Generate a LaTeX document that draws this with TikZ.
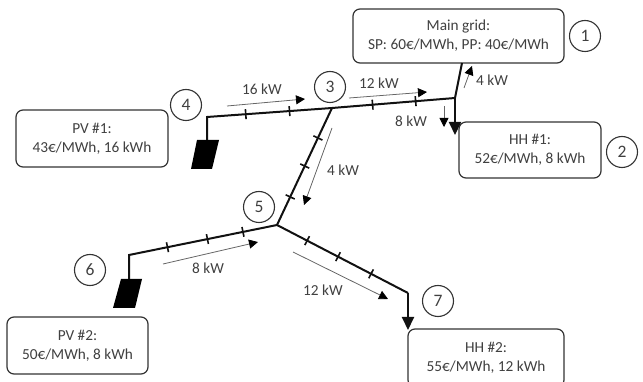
\documentclass[tikz,border=0pt]{standalone}
\usepackage{fontspec}
\setmainfont{Carlito}
\usepackage{tikz}
\usetikzlibrary{arrows.meta,positioning}
\definecolor{ink}{HTML}{404040}
\definecolor{wire}{HTML}{111111}
\definecolor{frame}{HTML}{333333}
\definecolor{flowline}{HTML}{666666}

\begin{document}
\begin{tikzpicture}[x=1pt,y=-1pt,
  infobox/.style={draw=frame,line width=1.2pt,rounded corners=7pt,fill=white,align=center,
    text=ink,font=\fontsize{15.3}{19}\selectfont,inner sep=0pt,
    execute at begin node={\rule{0pt}{15pt}}},
  tag/.style={circle,draw=frame,line width=1.1pt,minimum size=31pt,inner sep=0pt,
    text=ink,font=\fontsize{17.5}{18}\selectfont},
  wirebus/.style={draw=wire,line width=2pt,line join=miter},
  feed/.style={wirebus,-{Triangle[length=13pt,width=12pt]}},
  tickmark/.style={sloped,fill=wire,minimum width=1.6pt,minimum height=10pt,inner sep=0pt},
  flow/.style={draw=flowline,line width=.8pt,-{Triangle[length=9pt,width=9pt,color=black]}},
  flowlabel/.style={text=ink,font=\fontsize{15.3}{16}\selectfont,inner sep=0pt},
  panel/.style={fill=black}]
\useasboundingbox (0,0) rectangle (643,382);
% boxes
\node[infobox,minimum width=211pt,minimum height=54pt] (grid) at (458.5,36) {Main grid:\\SP: 60€/MWh, PP: 40€/MWh};
\node[infobox,minimum width=142pt,minimum height=56pt] (hh1) at (530,150) {HH \#1:\\52€/MWh, 8 kWh};
\node[infobox,minimum width=152pt,minimum height=57pt] (pv1) at (92,138.5) {PV \#1:\\43€/MWh, 16 kWh};
\node[infobox,minimum width=141pt,minimum height=57pt] (pv2) at (77.5,345.5) {PV \#2:\\50€/MWh, 8 kWh};
\node[infobox,minimum width=156pt,minimum height=58pt] (hh2) at (486,358) {HH \#2:\\55€/MWh, 12 kWh};
% numbers
\node[tag] (n1) at (585,36) {1};
\node[tag] (n2) at (622,152) {2};
\node[tag] (n3) at (330,87) {3};
\node[tag] (n4) at (186,105) {4};
\node[tag] (n5) at (259,207) {5};
\node[tag] (n6) at (90,270) {6};
\node[tag] (n7) at (438,301) {7};
% panels
\fill[panel] (197,140) -- (219,140) -- (212,169) -- (191,169) -- cycle;
\fill[panel] (121,279) -- (142,279) -- (135,308) -- (113,308) -- cycle;
% network
\coordinate (bus3) at (332,108);
\coordinate (bus5) at (277,225);
\coordinate (tee) at (455,98);
\coordinate (tap) at (462,63);
\coordinate (drop) at (455,135);
\coordinate (bend4) at (207,117);
\coordinate (foot4) at (207,140);
\coordinate (bend6) at (129,255);
\coordinate (foot6) at (129,279);
\coordinate (bend7) at (408,293);
\coordinate (drop7) at (408,330);
\draw[wirebus] (foot4) -- (bend4) -- node[tickmark,pos=.31]{} node[tickmark,pos=.66]{} (bus3);
\draw[wirebus] (bus3) -- node[tickmark,pos=.33]{} node[tickmark,pos=.68]{} (tee);
\draw[wirebus] (bus3) -- node[tickmark,pos=.256]{} node[tickmark,pos=.496]{} node[tickmark,pos=.76]{} (bus5);
\draw[wirebus] (foot6) -- (bend6) -- node[tickmark,pos=.26]{} node[tickmark,pos=.53]{} node[tickmark,pos=.77]{} (bus5);
\draw[wirebus] (bus5) -- node[tickmark,pos=.23]{} node[tickmark,pos=.466]{} node[tickmark,pos=.718]{} (bend7);
\draw[feed] (bend7) -- (drop7);
\draw[wirebus] (tee) -- (tap);
\draw[feed] (tee) -- (drop);
% flows
\coordinate (f1a) at (227,106); \coordinate (f1b) at (305,99);
\coordinate (f2a) at (349,98); \coordinate (f2b) at (427,92);
\coordinate (f3a) at (464,88); \coordinate (f3b) at (472,66);
\coordinate (f4a) at (444,106); \coordinate (f4b) at (444,127);
\coordinate (f5a) at (332,128); \coordinate (f5b) at (304,205);
\coordinate (f6a) at (163,264); \coordinate (f6b) at (258,242);
\coordinate (f7a) at (293,252); \coordinate (f7b) at (388,299);
\draw[flow] (f1a) -- (f1b);
\draw[flow] (f2a) -- (f2b);
\draw[flow] (f3a) -- (f3b);
\draw[flow] (f4a) -- (f4b);
\draw[flow] (f5a) -- (f5b);
\draw[flow] (f6a) -- (f6b);
\draw[flow] (f7a) -- (f7b);
\node[flowlabel] (l16) at (262,89) {16 kW};
\node[flowlabel] (l12a) at (379,83) {12 kW};
\node[flowlabel] (l4a) at (492,80) {4 kW};
\node[flowlabel] (l8a) at (411,121) {8 kW};
\node[flowlabel] (l4b) at (343,170) {4 kW};
\node[flowlabel] (l8b) at (208,268) {8 kW};
\node[flowlabel] (l12b) at (323,290) {12 kW};
\end{tikzpicture}
\end{document}
